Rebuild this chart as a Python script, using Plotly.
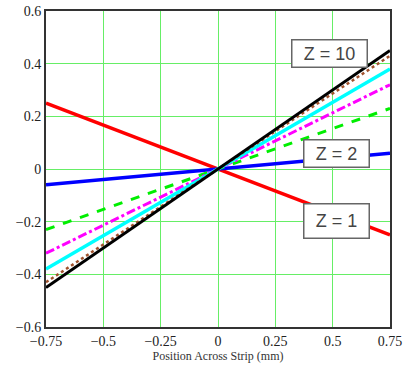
import plotly.graph_objects as go

x_pos = [-0.75, 0.0, 0.75]
z1 = [0.25, 0.0, -0.25]
z2 = [-0.06, 0.0, 0.06]
z3 = [-0.23, 0.0, 0.23]
z4 = [-0.32, 0.0, 0.32]
z5 = [-0.38, 0.0, 0.38]
z6 = [-0.43, 0.0, 0.43]
z10 = [-0.45, 0.0, 0.45]

x_ticks = [-0.75, -0.5, -0.25, 0, 0.25, 0.5, 0.75]
x_tick_text = ["\u22120.75", "\u22120.5", "\u22120.25", "0", "0.25", "0.5", "0.75"]
y_ticks = [-0.6, -0.4, -0.2, 0, 0.2, 0.4, 0.6]
y_tick_text = ["\u22120.6", "\u22120.4", "\u22120.2", "0", "0.2", "0.4", "0.6"]

series = [
    (z1, "#ff0000", "solid", 3.5),
    (z2, "#0000ff", "solid", 3.5),
    (z3, "#00ee00", "dash", 3),
    (z4, "#ff00ff", "dashdot", 3),
    (z5, "#00ffff", "solid", 3.5),
    (z6, "#a0522d", "dot", 2.5),
    (z10, "#000000", "solid", 3),
]

fig = go.Figure()
for ys, col, dash, w in series:
    fig.add_trace(go.Scatter(x=x_pos, y=ys, mode="lines",
                             line=dict(color=col, dash=dash, width=w),
                             showlegend=False, hoverinfo="skip"))

labels = [("Z = 10", 0.488, 0.437, 70, 22), ("Z = 2", 0.515, 0.057, 60, 22),
          ("Z = 1", 0.515, -0.198, 60, 29)]
for txt, lx, ly, w, h in labels:
    fig.add_annotation(x=lx, y=ly, text=txt, showarrow=False,
                       width=w, height=h,
                       font=dict(family="Arial", size=18, color="#444444"),
                       bgcolor="white", bordercolor="#666666", borderwidth=1.5,
                       borderpad=2)

serif = "Liberation Serif, Times New Roman, serif"
fig.update_layout(
    width=403, height=368,
    margin=dict(l=46, r=13, t=11, b=41),
    paper_bgcolor="white", plot_bgcolor="white",
    font=dict(family=serif, color="#333333"),
)
fig.update_xaxes(range=[-0.75, 0.75], tickvals=x_ticks, ticktext=x_tick_text,
                 automargin=False,
                 showgrid=True, gridcolor="#66ee66", gridwidth=1,
                 zeroline=False, showline=True, linecolor="#333333", linewidth=2,
                 mirror=True, ticks="", tickfont=dict(family=serif, size=14, color="#222222"),
                 title=dict(text="Position Across Strip (mm)",
                            font=dict(family=serif, size=12, color="#333333"),
                            standoff=4))
fig.update_yaxes(range=[-0.6, 0.6], tickvals=y_ticks, ticktext=y_tick_text,
                 automargin=False,
                 showgrid=True, gridcolor="#66ee66", gridwidth=1,
                 zeroline=False, showline=True, linecolor="#333333", linewidth=2,
                 mirror=True, ticks="", tickfont=dict(family=serif, size=14, color="#222222"))

fig.write_html("out.html", config={"displayModeBar": False},
               post_script="document.body.style.margin='0';document.body.style.overflow='hidden';")
